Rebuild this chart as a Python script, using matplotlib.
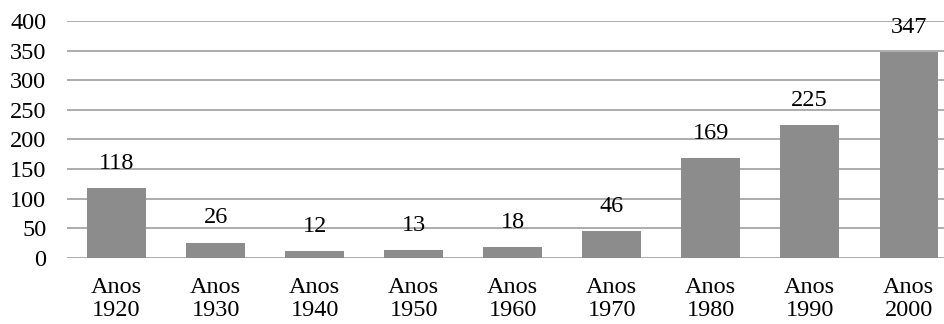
import matplotlib.pyplot as plt

categories = ['Anos\n1920', 'Anos\n1930', 'Anos\n1940', 'Anos\n1950', 'Anos\n1960',
              'Anos\n1970', 'Anos\n1980', 'Anos\n1990', 'Anos\n2000']
values = [118, 26, 12, 13, 18, 46, 169, 225, 347]

plt.rcParams['font.family'] = ['Liberation Serif', 'DejaVu Serif']
plt.rcParams['font.size'] = 17.5

fig = plt.figure(figsize=(9.45, 3.24), dpi=100)
ax = fig.add_axes([0.071, 0.204, 0.943, 0.731])

bars = ax.bar(range(len(values)), values, width=0.59, color='#8c8c8c', zorder=3)
for b, v in zip(bars, values):
    ax.annotate(str(v), (b.get_x() + b.get_width() / 2, v), xytext=(0, 13.7),
                textcoords='offset points', ha='center', va='baseline', zorder=4)

ax.set_xlim(-0.5, len(values) - 0.5)
ax.set_ylim(0, 400)
ax.set_yticks(range(0, 401, 50))
ax.set_xticks(range(len(values)))
ax.set_xticklabels(categories, linespacing=1.12)
ax.grid(axis='y', color='#a6a6a6', linewidth=1.3, zorder=0)
ax.tick_params(length=0)
ax.tick_params(axis='y', pad=15)
ax.tick_params(axis='x', pad=13.5)
for s in ax.spines.values():
    s.set_visible(False)

fig.savefig('out.png', dpi=100)
